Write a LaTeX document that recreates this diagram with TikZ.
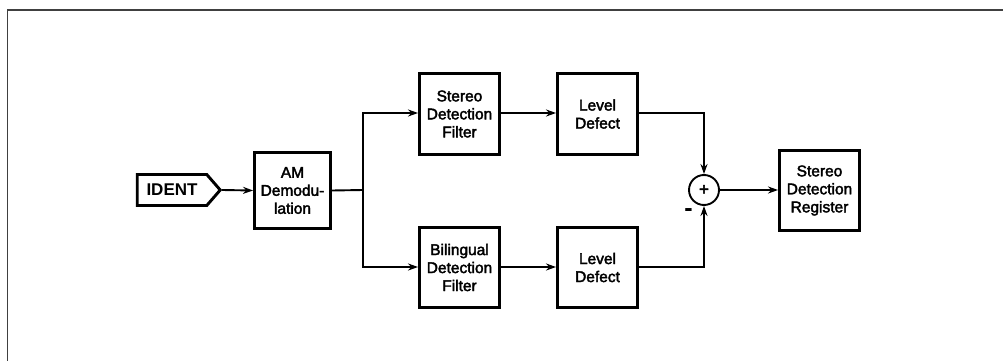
\documentclass[tikz,border=0pt]{standalone}
\usepackage{fontspec}
\setmainfont{Liberation Sans}
\newfontfamily\medfont{Liberation Sans}[FakeBold=2.5]
\usetikzlibrary{arrows.meta,shapes.symbols}
\begin{document}
\begin{tikzpicture}[x=1pt,y=-1pt,
  blk/.style={draw, line width=2.9pt, minimum width=80pt, minimum height=80pt, inner sep=0pt, align=center, font=\medfont\fontsize{15.5}{18}\selectfont},
  conn/.style={line width=1.9pt},
  arr/.style={conn, -{Stealth[length=10pt,width=7pt]}}]
\useasboundingbox (0,0) rectangle (1003,361);
\draw[line width=1.6pt, color=black!75] (7.5,361) -- (7.5,10) -- (1003,10);
\node[draw, line width=2.9pt, signal, signal to=east, signal pointer angle=98, minimum width=83pt, minimum height=31pt, inner sep=0pt, font=\fontsize{17}{18}\selectfont\bfseries] (ident) at (172,190) {IDENT\hspace{6pt}};
\node[blk, minimum width=76pt, minimum height=76pt] (am) at (292.5,190.5) {AM\\Demodu-\\lation};
\node[blk, minimum height=81pt] (sdf) at (459.5,114) {Stereo\\Detection\\Filter};
\node[blk, minimum height=81pt] (ld1) at (597.5,114) {Level\\Defect};
\node[blk] (bdf) at (459.5,267.5) {Bilingual\\Detection\\Filter};
\node[blk] (ld2) at (597.5,267.5) {Level\\Defect};
\node[blk] (sdr) at (819.5,190.5) {Stereo\\Detection\\Register};
\node[draw, circle, line width=1.9pt, minimum size=30pt, inner sep=0pt, font=\medfont\fontsize{17}{18}\selectfont] (sum) at (704,190) {+};
\node[font=\fontsize{25}{18}\selectfont\bfseries, inner sep=0pt] (minus) at (688.5,213) {-};
\coordinate (br) at (363,190);
\coordinate (bt) at (363,113);
\coordinate (bb) at (363,267);
\draw[arr] (ident.east) -- (am.west);
\draw[conn] (am.east) -- (br);
\draw[arr] (br) -- (bt) -- (bt -| sdf.west);
\draw[arr] (br) -- (bb) -- (bb -| bdf.west);
\draw[arr] (sdf.east |- bt) -- (ld1.west |- bt);
\draw[arr] (bdf.east |- bb) -- (ld2.west |- bb);
\draw[arr] (ld1.east |- bt) -| (sum.north);
\draw[arr] (ld2.east |- bb) -| (sum.south);
\draw[arr] (sum.east) -- (sdr.west |- sum.east);
\end{tikzpicture}
\end{document}
